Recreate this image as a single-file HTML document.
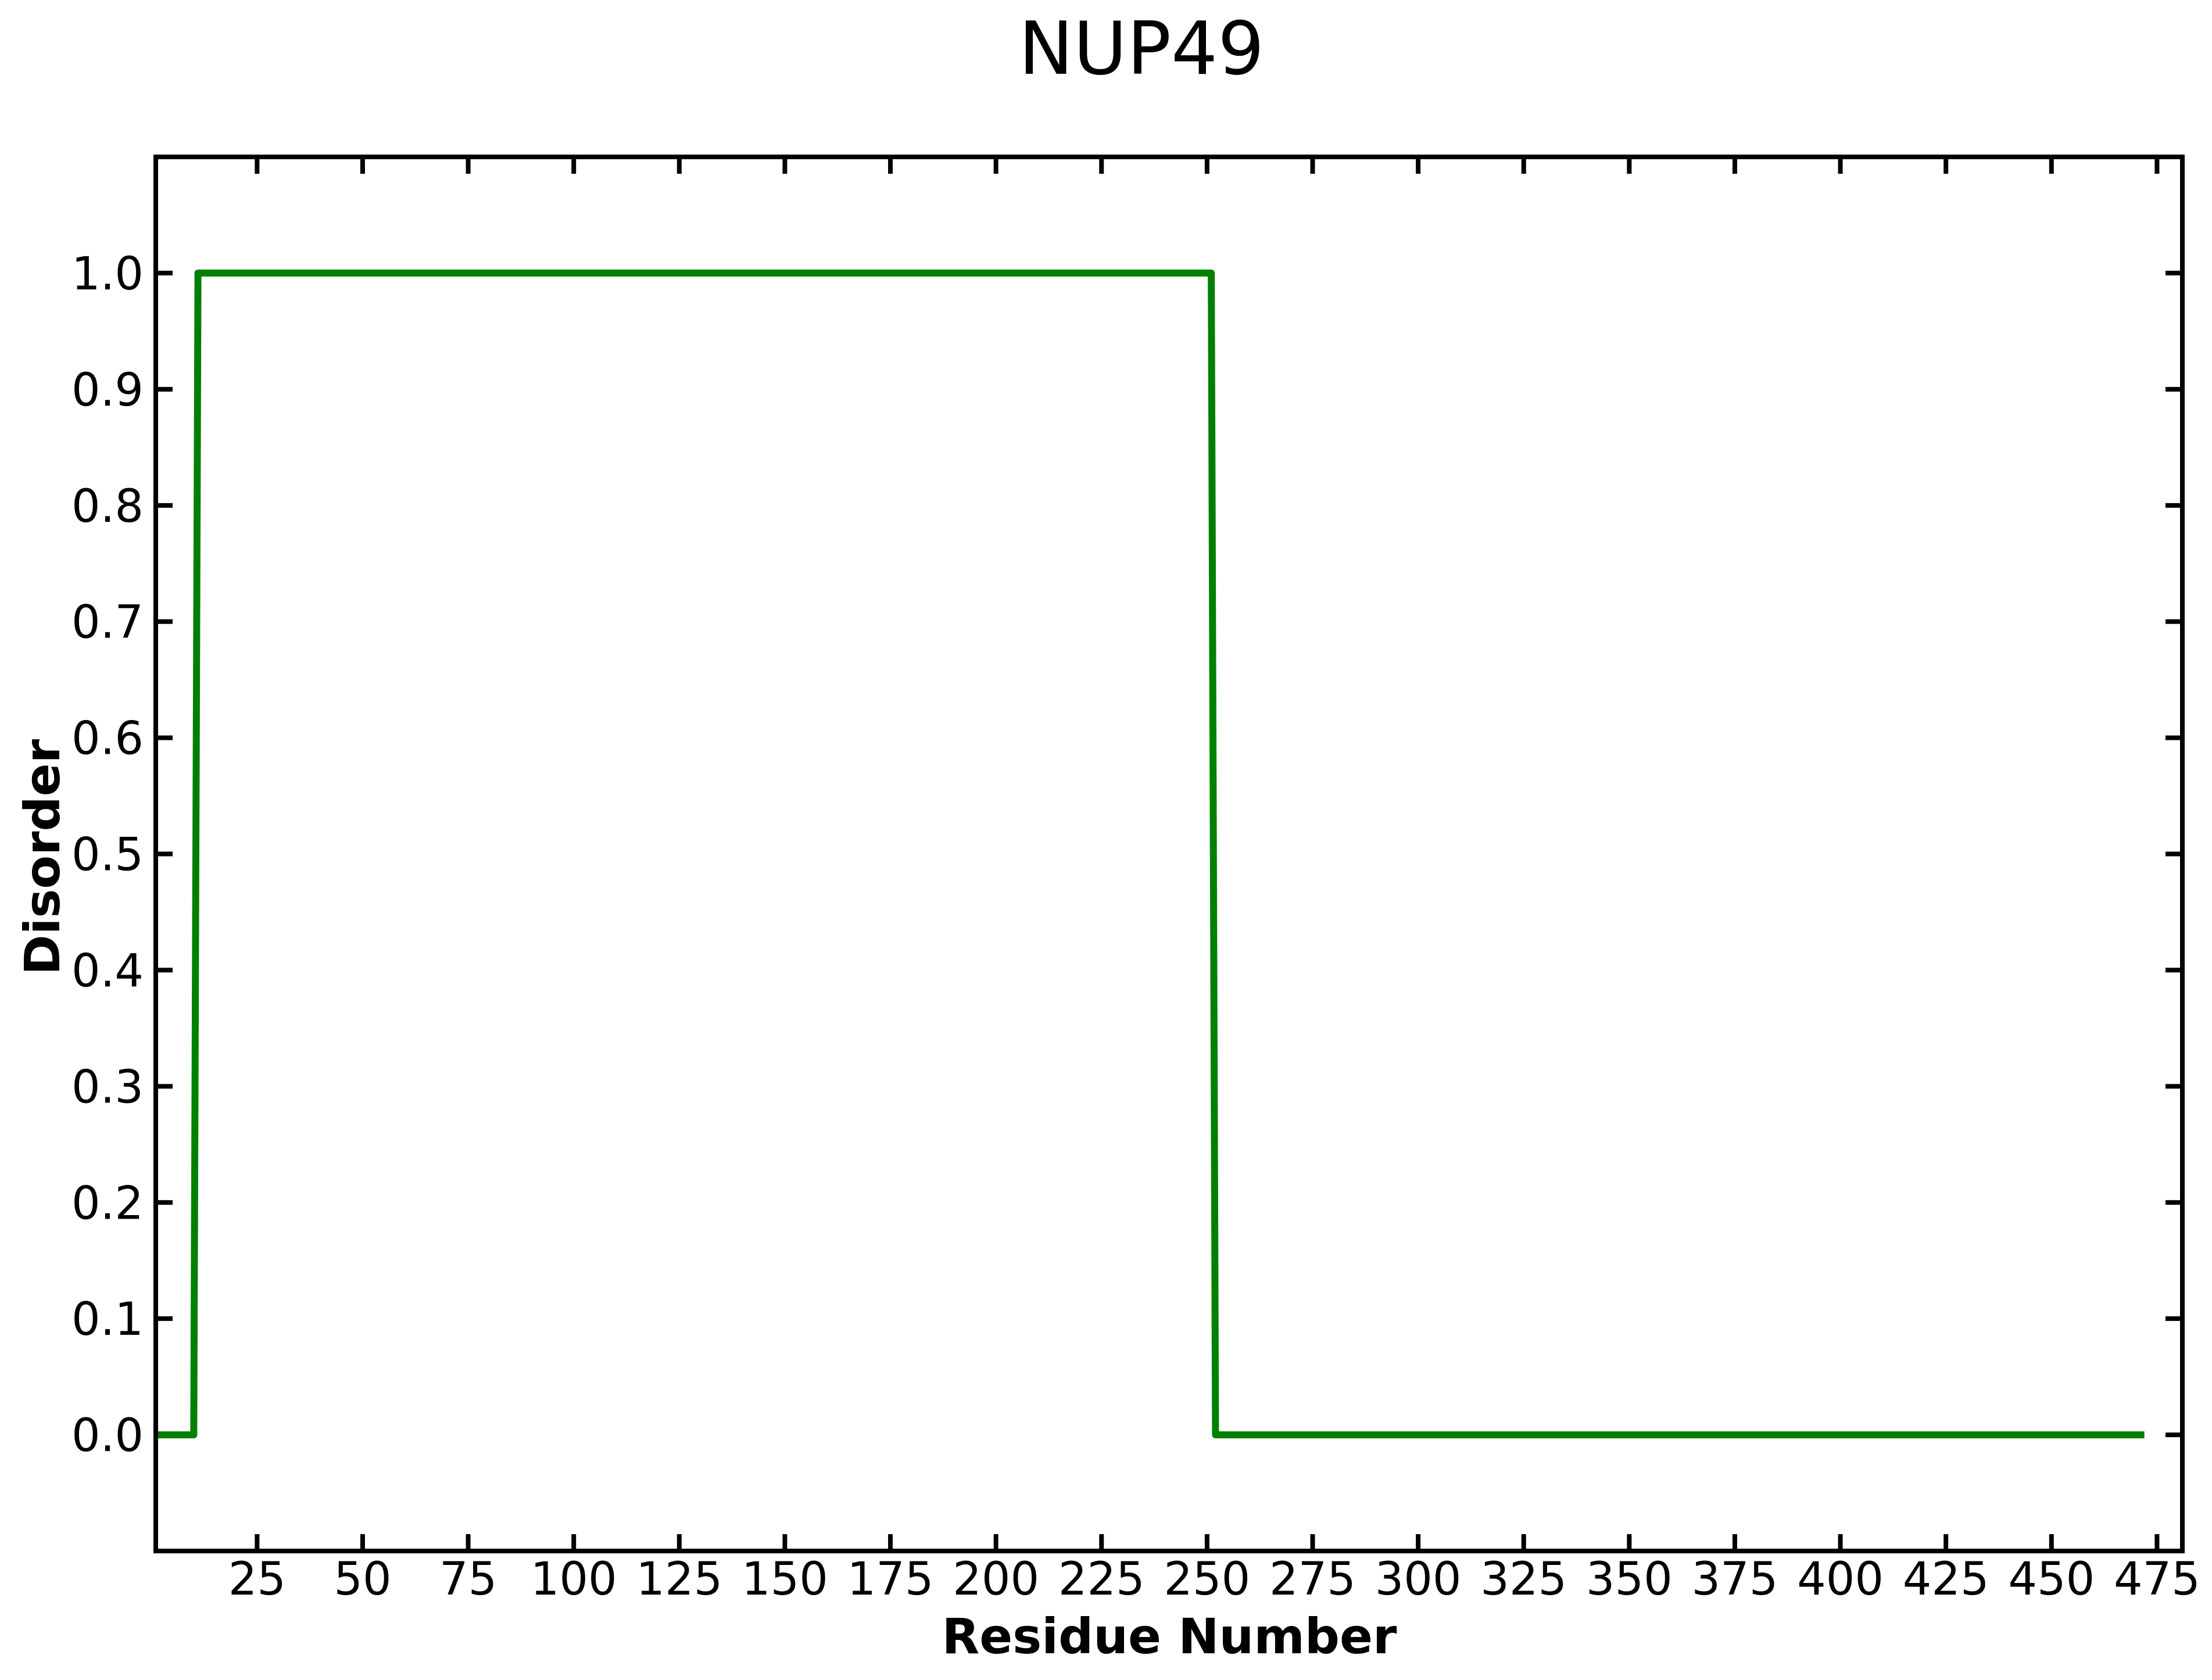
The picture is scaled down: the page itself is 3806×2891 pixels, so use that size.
<!DOCTYPE html>
<html><head><meta charset="utf-8"><style>
html,body{margin:0;padding:0;background:#fff;}
svg{display:block;}
text{font-family:"DejaVu Sans","Liberation Sans",sans-serif;fill:#000;}
</style></head><body>
<svg id="chart" width="3806" height="2891" viewBox="0 0 3806 2891" xmlns="http://www.w3.org/2000/svg">
<rect x="0" y="0" width="3806" height="2891" fill="#fff"/>
<text x="1964" y="127" font-size="126" text-anchor="middle">NUP49</text>
<text x="2012" y="2845" font-size="84" font-weight="bold" text-anchor="middle">Residue Number</text>
<text transform="translate(102,1475) rotate(-90)" font-size="84" font-weight="bold" text-anchor="middle">Disorder</text>
<g id="ticks"></g>
<g id="series"></g>
<rect x="268" y="270" width="3487" height="2399" fill="none" stroke="#000" stroke-width="8"/>
</svg>
<script>
const xTicks = [25,50,75,100,125,150,175,200,225,250,275,300,325,350,375,400,425,450,475];
const yTicks = [0.0,0.1,0.2,0.3,0.4,0.5,0.6,0.7,0.8,0.9,1.0];
const residues = [1,10,11,251,252,472];
const disorder = [0,0,1,1,0,0];
const xMin = 1, xMax = 481, yMin = -0.1, yMax = 1.1;

const L=268,R=3755,T=270,B=2669;
function sx(v){return L+(v-xMin)/(xMax-xMin)*(R-L);}
function sy(v){return B-(v-yMin)/(yMax-yMin)*(B-T);}
const NS="http://www.w3.org/2000/svg";
const tg=document.getElementById('ticks');
function mk(tag,attrs,parent){const e=document.createElementNS(NS,tag);for(const k in attrs)e.setAttribute(k,attrs[k]);parent.appendChild(e);return e;}
const TL=29;
xTicks.forEach(v=>{
  const x=sx(v);
  const b=mk('line',{x1:x,y1:B,x2:x,y2:B-TL,stroke:'#000','stroke-width':8},tg);
  
  
  const t=mk('line',{x1:x,y1:T,x2:x,y2:T+TL,stroke:'#000','stroke-width':8},tg);
  
  
  const l=mk('text',{x:x,y:2744,'font-size':78,'text-anchor':'middle'},tg);
  l.textContent=String(v);
  
  
});
yTicks.forEach(v=>{
  const y=sy(v);
  const a=mk('line',{x1:L,y1:y,x2:L+TL,y2:y,stroke:'#000','stroke-width':8},tg);
  
  
  const c=mk('line',{x1:R,y1:y,x2:R-TL,y2:y,stroke:'#000','stroke-width':8},tg);
  
  
  const l=mk('text',{x:247,y:y+28,'font-size':78,'text-anchor':'end'},tg);
  l.textContent=v.toFixed(1);
  
  
});
const pts=residues.map((r,i)=>sx(r)+','+sy(disorder[i])).join(' ');
const pl=mk('polyline',{points:pts,fill:'none',stroke:'#008000','stroke-width':12,'stroke-linejoin':'round','stroke-linecap':'butt'},document.getElementById('series'));


</script>
</body></html>
